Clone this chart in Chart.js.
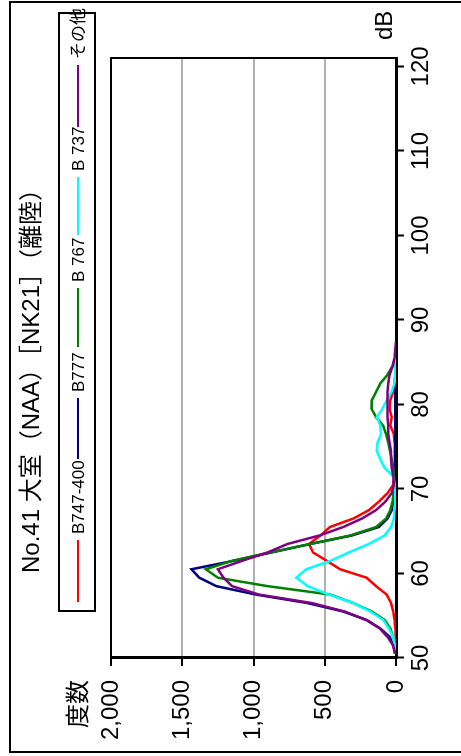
<!DOCTYPE html>
<html>
<head>
<meta charset="utf-8">
<script src="https://cdn.jsdelivr.net/npm/chart.js@4.4.1/dist/chart.umd.min.js"></script>
<style>
  html, body { margin: 0; padding: 0; background: #fff; }
  body { width: 461px; height: 756px; overflow: hidden; position: relative; }
  .frame { position: absolute; left: 9px; top: 1px; width: 490px; height: 752px; border: 2px solid #000; box-sizing: border-box; }
  #land { position: absolute; left: 0; top: 0; width: 756px; height: 461px; transform-origin: 0 0; transform: translate(0px, 756px) rotate(-90deg); }
  #land canvas { position: absolute; left: 0; top: 0; }
  .txt { position: absolute; font-family: 'Liberation Sans Narrow', 'Liberation Sans', 'Noto Sans CJK JP', sans-serif; color: #000; white-space: nowrap; }
  .title { left: 0; width: 762px; top: 19px; font-size: 24px; line-height: 24px; text-align: center; }
  .legend-box { position: absolute; left: 144px; top: 58px; width: 600px; height: 38px; border: 2px solid #000; box-sizing: border-box; }
  .lg-line { position: absolute; top: 77px; height: 2px; }
  .lg-text { top: 70px; font-size: 17px; line-height: 17px; }
  .unit { font-size: 24px; line-height: 24px; }
</style>
</head>
<body>
<div class="frame"></div>
<div id="land">
  <canvas id="chart" width="756" height="461"></canvas>
  <div class="txt title">No.41 大室（NAA）［NK21］（離陸）</div>
  <div class="legend-box"></div>
  <div id="legend"></div>
  <div class="txt unit" style="left:716px; top:372px;">dB</div>
  <div class="txt unit" style="right:680px; top:64px; font-family:'Noto Sans CJK JP', sans-serif;">度数</div>
</div>
<script>
const seriesNames = ['B747-400', 'B777', 'B 767', 'B 737', 'その他'];
const seriesColors = ['#ff0000', '#000080', '#008000', '#00ffff', '#800080'];

// bin centres, dB
const dbBins = [50.5, 51.5, 52.5, 53.5, 54.5, 55.5, 56.5, 57.5, 58.5, 59.5,
  60.5, 61.5, 62.5, 63.5, 64.5, 65.5, 66.5, 67.5, 68.5, 69.5,
  70.5, 71.5, 72.5, 73.5, 74.5, 75.5, 76.5, 77.5, 78.5, 79.5,
  80.5, 81.5, 82.5, 83.5, 84.5, 85.5, 86.5, 87.5, 88.5];

const b747 = [0, 0, 2, 5, 10, 19, 35, 65, 140, 206,
  393, 486, 583, 610, 530, 463, 300, 190, 120, 60,
  19, 10, 10, 8, 8, 10, 15, 40, 30, 45,
  40, 20, 10, 5, 3, 0, null, null, null];
const b777 = [8, 20, 45, 110, 206, 370, 620, 980, 1260, 1380,
  1435, 1140, 870, 600, 310, 120, 60, 30, 20, 12,
  8, 5, 5, 5, 5, 5, 5, 5, 5, 5,
  5, 5, 5, 5, 5, 3, 0, null, null];
const b767 = [3, 8, 20, 40, 80, 170, 300, 460, 900, 1250,
  1335, 1150, 880, 600, 320, 140, 70, 40, 25, 18,
  12, 15, 20, 30, 42, 55, 70, 90, 140, 172,
  170, 140, 110, 60, 25, 5, 0, null, null];
const b737 = [2, 8, 20, 50, 90, 180, 300, 470, 620, 700,
  630, 460, 330, 190, 80, 35, 15, 10, 5, 5,
  8, 20, 80, 110, 135, 130, 105, 110, 135, 95,
  65, 30, 10, 5, 5, 0, null, null, null];
const others = [5, 20, 60, 115, 210, 360, 590, 960, 1150, 1210,
  1250, 1080, 900, 760, 536, 370, 240, 140, 75, 30,
  15, 20, 30, 35, 35, 45, 55, 55, 60, 60,
  60, 60, 55, 45, 25, 10, 5, 0, null];

const countTicks = [0, 500, 1000, 1500, 2000];
const dbTicks = [50, 60, 70, 80, 90, 100, 110, 120];

const allSeries = [b747, b777, b767, b737, others];
const FONT = "'Liberation Sans Narrow', 'Liberation Sans', sans-serif";

// legend (html), positions along the box
const legendX = [154, 297, 409, 521, 629];
const legendLen = [62, 61, 59, 58, 62];
const legendEl = document.getElementById('legend');
seriesNames.forEach((name, i) => {
  const line = document.createElement('div');
  line.className = 'lg-line';
  line.style.left = legendX[i] + 'px';
  line.style.width = legendLen[i] + 'px';
  line.style.background = seriesColors[i];
  legendEl.appendChild(line);
  const t = document.createElement('div');
  t.className = 'txt lg-text';
  t.style.left = (legendX[i] + legendLen[i] + 6) + 'px';
  t.textContent = name;
  legendEl.appendChild(t);
});

const plotBorder = {
  id: 'plotBorder',
  beforeDatasetsDraw(chart) {
    const a = chart.chartArea;
    const c = chart.ctx;
    c.save();
    c.strokeStyle = '#000';
    c.lineWidth = 2;
    c.strokeRect(a.left, a.top, a.right - a.left, a.bottom - a.top);
    c.restore();
  }
};

const datasets = allSeries.map((vals, i) => ({
  label: seriesNames[i],
  data: dbBins.map((x, j) => ({ x: x, y: vals[j] })),
  borderColor: seriesColors[i],
  backgroundColor: seriesColors[i],
  borderWidth: 2.5,
  pointRadius: 0,
  tension: 0,
  fill: false,
  spanGaps: false,
  order: 5 - i
}));

new Chart(document.getElementById('chart'), {
  type: 'line',
  data: { datasets: datasets },
  options: {
    responsive: false,
    animation: false,
    layout: { padding: { left: 0, right: 58, top: 111, bottom: 0 } },
    plugins: { legend: { display: false }, title: { display: false }, tooltip: { enabled: false } },
    scales: {
      x: {
        type: 'linear',
        min: 50,
        max: 121,
        afterFit: s => { s.height = 65; },
        afterBuildTicks: s => { s.ticks = dbTicks.map(v => ({ value: v })); },
        ticks: { font: { family: FONT, size: 24 }, color: '#000', padding: 3, maxRotation: 0, autoSkip: false },
        grid: { drawOnChartArea: false, tickLength: 8, tickColor: '#000', tickWidth: 2 },
        border: { color: '#000', width: 3 }
      },
      y: {
        min: 0,
        max: 2000,
        afterFit: s => { s.width = 98; },
        afterBuildTicks: s => { s.ticks = countTicks.map(v => ({ value: v })); },
        ticks: {
          font: { family: FONT, size: 24 }, color: '#000', padding: 14,
          callback: v => v.toLocaleString('en-US')
        },
        grid: {
          color: ctx => (ctx.tick && ctx.tick.value > 0 && ctx.tick.value < 2000) ? '#b0b0b0' : 'rgba(0,0,0,0)',
          lineWidth: 2,
          tickLength: 8,
          tickColor: '#000',
          tickWidth: 2
        },
        border: { color: '#000', width: 3 }
      }
    }
  },
  plugins: [plotBorder]
});
</script>
</body>
</html>
